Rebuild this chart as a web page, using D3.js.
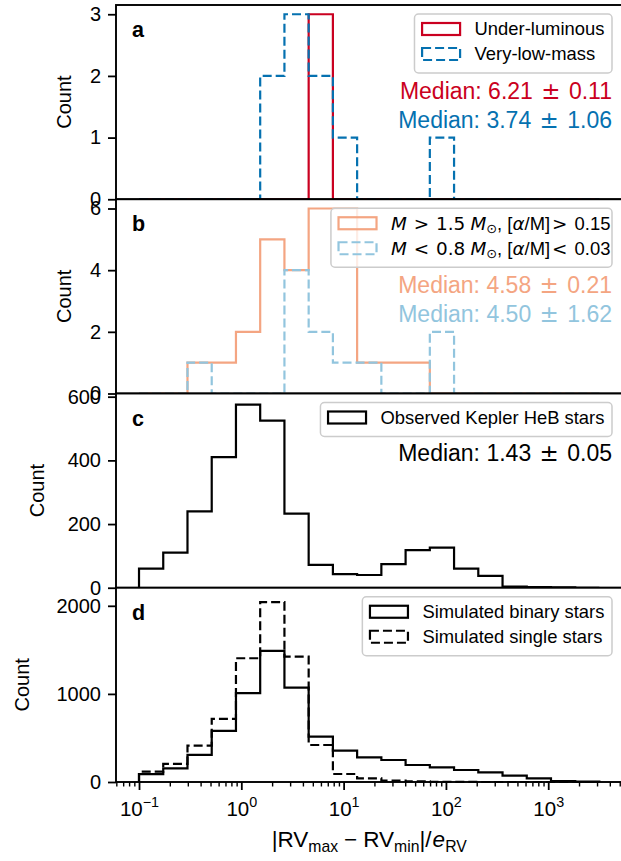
<!DOCTYPE html>
<html>
<head>
<meta charset="utf-8">
<script src="https://cdn.jsdelivr.net/npm/d3@7/dist/d3.min.js"></script>
<style>
body { margin: 0; background: #fff; }
svg { display: block; font-family: "Liberation Sans", Arial, Helvetica, sans-serif; }
</style>
</head>
<body>
<div id="chart"></div>
<script>
// log-spaced bin edges shared by all four histograms (19 bins)
const binEdges = [0.1, 0.1725, 0.2977, 0.5137, 0.8863, 1.529, 2.639, 4.553, 7.855, 13.55,
    23.38, 40.35, 69.61, 120.1, 207.2, 357.6, 617.0, 1064, 1837, 3162];

// counts per bin
const underLuminous   = [0, 0, 0, 0, 0, 0, 0, 3, 0, 0, 0, 0, 0, 0, 0, 0, 0, 0, 0];
const veryLowMass     = [0, 0, 0, 0, 0, 2, 3, 2, 1, 0, 0, 0, 1, 0, 0, 0, 0, 0, 0];
const highMassAlpha   = [0, 0, 1, 1, 2, 5, 4, 6, 6, 1, 1, 1, 0, 0, 0, 0, 0, 0, 0];
const lowMassAlpha    = [0, 0, 1, 0, 0, 0, 4, 2, 1, 1, 0, 0, 2, 0, 0, 0, 0, 0, 0];
const keplerHeB       = [60, 110, 240, 410, 575, 525, 233, 72, 43, 40, 74, 118, 126, 60, 37, 4, 2, 1, 0];
const simBinary       = [90, 155, 307, 580, 1008, 1489, 1072, 515, 356, 280, 250, 193, 167, 136, 110, 72, 42, 11, 4];
const simSingle       = [117, 205, 413, 716, 1405, 2042, 1424, 420, 91, 42, 15, 6, 3, 1, 0, 0, 0, 0, 0];

// axis ticks
const xMajorTicks = [0.1, 1, 10, 100, 1000];
const xTickExps = ["\u22121", "0", "1", "2", "3"];
const yTicksA = [0, 1, 2, 3];
const yTicksB = [0, 2, 4, 6];
const yTicksC = [0, 200, 400, 600];
const yTicksD = [0, 1000, 2000];

const RED = "#ca0020", BLUE = "#0571b0", ORANGE = "#f4a582", LBLUE = "#92c5de";
const MATH = "DejaVu Sans";

const W = 621, H = 861;
const mLeft = 116, mRight = 622.4, mTop = 5, mBottom = 782;
const panelH = (mBottom - mTop) / 4;

const x = d3.scaleLog().domain([0.05957, 5309]).range([mLeft, mRight]);

const svg = d3.select("#chart").append("svg").attr("width", W).attr("height", H);
svg.append("rect").attr("width", W).attr("height", H).attr("fill", "#fff");

function rich(sel, segs, fs) {
    let shift = 0;
    segs.forEach(s => {
        const t = sel.append("tspan").text(s.t);
        const target = s.sub ? fs * 0.2 : s.sup ? -fs * 0.45 : 0;
        t.attr("dy", target - shift);
        shift = target;
        if (s.sub || s.sup) t.attr("font-size", fs * 0.7);
        if (s.it) t.attr("font-style", "italic");
        if (s.font) t.attr("font-family", s.font);
        if (s.dx) t.attr("dx", s.dx);
    });
}

const pm = (a, b) => [{ t: "Median: " + a + " " }, { t: "\u00b1", font: MATH, dx: 2 }, { t: " " + b, dx: 2 }];

const massLabel = (rel, m, rel2, v) => [
    { t: "M", it: 1, font: MATH }, { t: " " + rel + " ", font: MATH, dx: 1 }, { t: m, font: MATH, dx: 1 }, { t: " " },
    { t: "M", it: 1, font: MATH }, { t: "\u2299", sub: 1, font: MATH }, { t: ", [" },
    { t: "\u03b1", it: 1, font: MATH }, { t: "/M]" }, { t: rel2, font: MATH, dx: 2 }, { t: " " + v, dx: 2 }
];

const panels = [
    {
        letter: "a", ymax: 3.15, yticks: yTicksA, countX: 71,
        series: [{ counts: underLuminous, color: RED }, { counts: veryLowMass, color: BLUE, dash: "9,4" }],
        legend: [
            { color: RED, label: [{ t: "Under-luminous" }] },
            { color: BLUE, dash: "9,4", label: [{ t: "Very-low-mass" }] }
        ],
        medians: [{ color: RED, segs: pm("6.21", "0.11"), y: 94 }, { color: BLUE, segs: pm("3.74", "1.06"), y: 123 }]
    },
    {
        letter: "b", ymax: 6.3, yticks: yTicksB, countX: 71,
        series: [{ counts: highMassAlpha, color: ORANGE }, { counts: lowMassAlpha, color: LBLUE, dash: "9,4" }],
        legend: [
            { color: ORANGE, label: massLabel(">", "1.5", ">", "0.15") },
            { color: LBLUE, dash: "9,4", label: massLabel("<", "0.8", "<", "0.03") }
        ],
        medians: [{ color: ORANGE, segs: pm("4.58", "0.21"), y: 94 }, { color: LBLUE, segs: pm("4.50", "1.62"), y: 123 }]
    },
    {
        letter: "c", ymax: 610, yticks: yTicksC, countX: 44,
        series: [{ counts: keplerHeB, color: "#000" }],
        legend: [{ color: "#000", label: [{ t: "Observed Kepler HeB stars" }] }],
        medians: [{ color: "#000", segs: pm("1.43", "0.05"), y: 67 }]
    },
    {
        letter: "d", ymax: 2205, yticks: yTicksD, countX: 29,
        series: [{ counts: simBinary, color: "#000" }, { counts: simSingle, color: "#000", dash: "9,4" }],
        legend: [
            { color: "#000", label: [{ t: "Simulated binary stars" }] },
            { color: "#000", dash: "9,4", label: [{ t: "Simulated single stars" }] }
        ],
        medians: []
    }
];

const legFs = 18.4, medFs = 23, tickFs = 20;

panels.forEach((p, i) => {
    const y0 = mTop + i * panelH, y1 = y0 + panelH;
    const y = d3.scaleLinear().domain([0, p.ymax]).range([y1, y0]);
    const g = svg.append("g");

    g.append("rect").attr("x", mLeft).attr("y", y0).attr("width", mRight - mLeft).attr("height", panelH).attr("fill", "#fff");

    // step histograms
    p.series.forEach(s => {
        const pts = [[binEdges[0], 0]];
        s.counts.forEach((c, k) => { pts.push([binEdges[k], c]); pts.push([binEdges[k + 1], c]); });
        pts.push([binEdges[binEdges.length - 1], 0]);
        g.append("path")
            .attr("d", d3.line().x(d => x(d[0])).y(d => y(d[1]))(pts))
            .attr("fill", "none")
            .attr("stroke", s.color)
            .attr("stroke-width", 2.2)
            .attr("stroke-dasharray", s.dash || null);
    });

    // y axis
    const ax = g.append("g").attr("transform", `translate(${mLeft},0)`)
        .call(d3.axisLeft(y).tickValues(p.yticks).tickSize(8).tickPadding(7).tickFormat(d3.format("d")));
    ax.select(".domain").remove();
    ax.attr("font-family", null).attr("font-size", null);
    ax.selectAll("line").attr("stroke", "#000").attr("stroke-width", 1.8);
    ax.selectAll("text").attr("font-size", tickFs).attr("fill", "#000");

    g.append("text")
        .attr("transform", `translate(${p.countX},${(y0 + y1) / 2}) rotate(-90)`)
        .attr("text-anchor", "middle").attr("font-size", tickFs).text("Count");

    // spines
    g.append("rect").attr("x", mLeft).attr("y", y0).attr("width", mRight - mLeft).attr("height", panelH)
        .attr("fill", "none").attr("stroke", "#000").attr("stroke-width", 1.9);

    // panel letter
    g.append("text").attr("x", 132).attr("y", y0 + 32).attr("font-size", 21.5).attr("font-weight", "bold").text(p.letter);

    // legend
    const leg = g.append("g");
    const box = leg.append("rect").attr("fill", "#fff").attr("fill-opacity", 0.8)
        .attr("stroke", "#cccccc").attr("stroke-width", 1.5).attr("rx", 4);
    const texts = [];
    p.legend.forEach((e, k) => {
        const cy = y0 + 24 + 25 * k;
        const t = leg.append("text").attr("y", cy + 6.4).attr("font-size", legFs);
        rich(t, e.label, legFs);
        texts.push(t);
    });
    const tw = d3.max(texts, t => t.node().getComputedTextLength());
    const boxR = 612, boxL = boxR - 7.6 - tw - 14.5 - 38 - 7.6;
    const boxT = y0 + 9, boxH = 34 + 25 * (p.legend.length - 1);
    box.attr("x", boxL).attr("y", boxT).attr("width", boxR - boxL).attr("height", boxH);
    p.legend.forEach((e, k) => {
        const cy = y0 + 24 + 25 * k;
        leg.append("rect").attr("x", boxL + 7.6).attr("y", cy - 6).attr("width", 38).attr("height", 12)
            .attr("fill", "none").attr("stroke", e.color).attr("stroke-width", 2.2)
            .attr("stroke-dasharray", e.dash || null);
        texts[k].attr("x", boxL + 7.6 + 38 + 14.5);
    });

    // medians
    p.medians.forEach(m => {
        const t = g.append("text").attr("x", 612).attr("y", y0 + m.y).attr("text-anchor", "end")
            .attr("font-size", medFs).attr("fill", m.color);
        rich(t, m.segs, medFs);
    });

    // x axis on the bottom panel
    if (i === panels.length - 1) {
        const minor = [];
        [0.01, 0.1, 1, 10, 100, 1000].forEach(dec => {
            for (let k = 2; k <= 9; k++) {
                const v = k * dec;
                if (v > x.domain()[0] && v < x.domain()[1]) minor.push(v);
            }
        });
        const mx = g.append("g").attr("transform", `translate(0,${y1})`)
            .call(d3.axisBottom(x).tickValues(minor).tickSize(4.5).tickFormat(""));
        mx.select(".domain").remove();
        mx.selectAll("line").attr("stroke", "#000").attr("stroke-width", 1.4);

        const bx = g.append("g").attr("transform", `translate(0,${y1})`)
            .call(d3.axisBottom(x).tickValues(xMajorTicks).tickSize(8).tickFormat(""));
        bx.select(".domain").remove();
        bx.selectAll("line").attr("stroke", "#000").attr("stroke-width", 1.8);
        bx.selectAll(".tick").each(function (d, k) {
            const t = d3.select(this).append("text").attr("y", 34).attr("text-anchor", "middle")
                .attr("font-size", 20.5).attr("fill", "#000").attr("font-family", "Liberation Sans, Arial, sans-serif");
            rich(t, [{ t: "10" }, { t: xTickExps[k], sup: 1 }], 20.5);
        });

        const xfs = 22.5;
        const xl = g.append("text").attr("x", (mLeft + mRight) / 2).attr("y", 847)
            .attr("text-anchor", "middle").attr("font-size", xfs);
        rich(xl, [{ t: "|RV" }, { t: "max", sub: 1 }, { t: "\u2212", dx: 6 }, { t: "RV", dx: 6 }, { t: "min", sub: 1 },
            { t: "|/" }, { t: "e", it: 1, dx: 1 }, { t: "RV", sub: 1 }], xfs);
    }
});
</script>
</body>
</html>
